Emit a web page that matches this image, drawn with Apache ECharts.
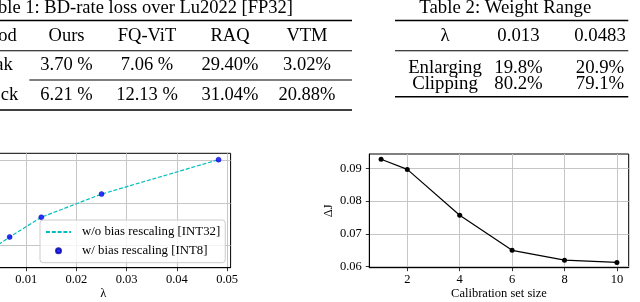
<!DOCTYPE html>
<html><head><meta charset="utf-8">
<script src="https://cdn.jsdelivr.net/npm/echarts@6/dist/echarts.min.js"></script>
<style>html,body{margin:0;padding:0;background:#fff}#c{width:640px;height:302px}</style>
</head><body><div id="c"></div>
<script>
// ---- data ----
const table1Title = 'ble 1: BD-rate loss over Lu2022 [FP32]';
const table1Header = ['od', 'Ours', 'FQ-ViT', 'RAQ', 'VTM'];
const table1Row1 = ['ak', '3.70 %', '7.06 %', '29.40%', '3.02%'];
const table1Row2 = ['ck', '6.21 %', '12.13 %', '31.04%', '20.88%'];
const table2Title = 'Table 2: Weight Range';
const table2Header = ['λ', '0.013', '0.0483'];
const table2Row1 = ['Enlarging', '19.8%', '20.9%'];
const table2Row2 = ['Clipping', '80.2%', '79.1%'];

const lambdas = [0.0018, 0.0035, 0.0067, 0.013, 0.025, 0.0483];
const int32Values = [1.2, 1.9, 2.41, 3.34, 4.43, 6.05];
const int8Values = [1.2, 1.9, 2.41, 3.34, 4.43, 6.05];
const lambdaTicks = [0.01, 0.02, 0.03, 0.04, 0.05];
const leftYTicks = [2, 4, 6];
const int32Name = 'w/o bias rescaling [INT32]';
const int8Name = 'w/ bias rescaling [INT8]';

const calibSizes = [1, 2, 4, 6, 8, 10];
const deltaJ = [0.0928, 0.0897, 0.0757, 0.0650, 0.0620, 0.0613];
const calibTicks = [2, 4, 6, 8, 10];
const deltaJTicks = [0.06, 0.07, 0.08, 0.09];

// ---- layout ----
const FONT = 'Liberation Serif';
const TF1 = '18.5px "Liberation Serif"';
const TF2 = '18.8px "Liberation Serif"';
const graphics = [];
function txt(t, x, y, align, font) {
  graphics.push({type: 'text', x: x, y: y, silent: true,
    style: {text: t, font: font || TF1, fill: '#000', textAlign: align || 'center', textVerticalAlign: 'middle'}});
}
function rule(x1, x2, y, h) {
  graphics.push({type: 'rect', silent: true, shape: {x: x1, y: y - h / 2, width: x2 - x1, height: h}, style: {fill: '#000'}});
}
// Table 1
txt(table1Title, 293, 8.5, 'right');
const t1x = [null, 66.5, 147, 230, 307];
const t1first = [16.7, 12.7, 18.3];
[table1Header, table1Row1, table1Row2].forEach((row, r) => {
  const y = [36, 65, 95][r];
  row.forEach((c, i) => {
    if (i === 0) txt(c, t1first[r], y, 'right'); else txt(c, t1x[i], y, 'center');
  });
});
rule(-5, 352, 20.5, 1.6);
rule(-5, 352, 50.7, 0.9);
rule(29.3, 352, 80, 0.9);
rule(-5, 352, 110, 1.6);
// Table 2
txt(table2Title, 505.3, 8.5, 'center', TF2);
const t2x = [445, 518.5, 600];
[table2Header, table2Row1, table2Row2].forEach((row, r) => {
  const y = [36, 68.5, 84.3][r];
  row.forEach((c, i) => txt(c, t2x[i], y, 'center', TF2));
});
rule(395, 628.3, 20.5, 1.6);
rule(395, 628.3, 50.7, 0.9);
rule(395, 628.3, 96.7, 1.6);

const labelStyle = {color: '#000', fontFamily: FONT, fontSize: 12.5};
const tickStyle = {color: '#000', width: 0.8};
const gridLine = {show: true, lineStyle: {color: '#c6c6c6', width: 1}};

const chart = echarts.init(document.getElementById('c'), null, {renderer: 'canvas'});
chart.setOption({
  animation: false,
  backgroundColor: '#fff',
  graphic: graphics,
  grid: [
    {left: -24, top: 153.3, width: 254.6, height: 114.4, show: true, borderColor: '#000', borderWidth: 1,
      backgroundColor: 'transparent', containLabel: false, outerBoundsMode: 'none'},
    {left: 369.3, top: 154, width: 259.4, height: 113.7, show: true, borderColor: '#000', borderWidth: 1,
      backgroundColor: 'transparent', containLabel: false, outerBoundsMode: 'none'}
  ],
  xAxis: [
    {type: 'value', gridIndex: 0, min: 0, max: 0.0507,
      axisLine: {show: true, onZero: false, lineStyle: {color: '#000', width: 1}},
      axisTick: {show: true, customValues: lambdaTicks, length: 3.5, lineStyle: tickStyle},
      axisLabel: Object.assign({customValues: lambdaTicks, formatter: v => v.toFixed(2), margin: 6}, labelStyle),
      splitLine: gridLine,
      name: 'λ', nameLocation: 'middle', nameGap: 19, nameTextStyle: labelStyle},
    {type: 'value', gridIndex: 1, min: 0.55, max: 10.45,
      axisLine: {show: true, onZero: false, lineStyle: {color: '#000', width: 1}},
      axisTick: {show: true, customValues: calibTicks, length: 3.5, lineStyle: tickStyle},
      axisLabel: Object.assign({customValues: calibTicks, margin: 6}, labelStyle),
      splitLine: gridLine,
      name: 'Calibration set size', nameLocation: 'middle', nameGap: 20, nameTextStyle: labelStyle}
  ],
  yAxis: [
    {type: 'value', gridIndex: 0, min: 0.965, max: 6.35,
      axisLine: {show: true, onZero: false, lineStyle: {color: '#000', width: 1}},
      axisTick: {show: true, customValues: leftYTicks, length: 3.5, lineStyle: tickStyle},
      axisLabel: Object.assign({customValues: leftYTicks, show: false}, labelStyle),
      splitLine: gridLine},
    {type: 'value', gridIndex: 1, min: 0.0597, max: 0.0944,
      axisLine: {show: true, onZero: false, lineStyle: {color: '#000', width: 1}},
      axisTick: {show: true, customValues: deltaJTicks, length: 3.5, lineStyle: tickStyle},
      axisLabel: Object.assign({customValues: deltaJTicks, formatter: v => v.toFixed(2), margin: 7.5}, labelStyle),
      splitLine: gridLine,
      name: 'ΔJ', nameLocation: 'middle', nameGap: 34, nameTextStyle: labelStyle}
  ],
  legend: {
    left: 40, top: 220, orient: 'vertical', padding: [5, 5, 5, 5], itemGap: 4.7,
    itemWidth: 25, itemHeight: 5,
    backgroundColor: 'rgba(255,255,255,0.8)', borderColor: '#cccccc', borderWidth: 1, borderRadius: 3,
    textStyle: {color: '#000', fontFamily: FONT, fontSize: 12.8, lineHeight: 14, padding: [0, 0, 0, 6]},
    data: [{name: int32Name, itemStyle: {opacity: 0, color: 'rgba(0,0,0,0)', borderWidth: 0}}, int8Name],
    selectedMode: false
  },
  series: [
    {name: int32Name, type: 'line', xAxisIndex: 0, yAxisIndex: 0,
      data: lambdas.map((l, i) => [l, int32Values[i]]),
      symbol: 'none', color: '#00bfbf',
      lineStyle: {color: '#00bfbf', width: 1.2, type: [4, 1.8]}, z: 2},
    {name: int8Name, type: 'scatter', xAxisIndex: 0, yAxisIndex: 0,
      data: lambdas.map((l, i) => [l, int8Values[i]]),
      symbol: 'circle', symbolSize: 5, color: '#0000ff',
      itemStyle: {color: '#0000ff', borderColor: '#0000b0', borderWidth: 0.6}, z: 3},
    {name: 'calib', type: 'line', xAxisIndex: 1, yAxisIndex: 1,
      data: calibSizes.map((s, i) => [s, deltaJ[i]]),
      symbol: 'circle', symbolSize: 5, showSymbol: true, color: '#000',
      lineStyle: {color: '#000', width: 1.2}, itemStyle: {color: '#000'}, z: 2}
  ]
});
</script></body></html>
